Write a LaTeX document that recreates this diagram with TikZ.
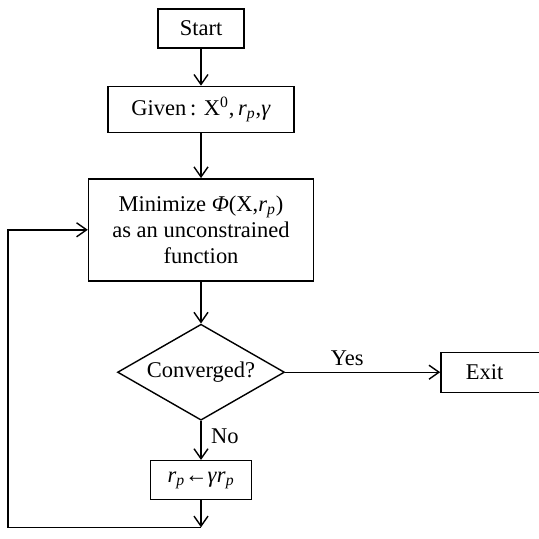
\documentclass[tikz,border=0pt]{standalone}
\usepackage{fontspec}
\setmainfont{Liberation Serif}
\usetikzlibrary{arrows.meta,positioning,shapes.geometric}

\newcommand{\rpsym}{\textit{r}\textsubscript{\textit{p}}}

\begin{document}
\begin{tikzpicture}[
        node distance=1cm, auto,
        line width=0.8pt,
        font=\fontsize{12.8pt}{14.8pt}\selectfont,
        >={Straight Barb[length=2mm,width=2.8mm]}
    ]
        \useasboundingbox (0,0) rectangle (10.76,-10.78);

        \node (1) [
            draw,
            minimum width=1.72cm,
            minimum height=0.78cm
        ] at (4.02,-0.57)
        {Start};

        \node (2) [
            draw,
            minimum width=3.72cm,
            minimum height=0.92cm,
            below=0.74cm of 1
        ]
        {Given\,: X\textsuperscript{0},\,\rpsym,\textit{γ}};

        \node (3) [
            draw,
            align=center,
            minimum width=4.5cm,
            minimum height=2.04cm,
            below=0.9cm of 2
        ]
        {Minimize \textit{Φ}(X,\rpsym)\\as an unconstrained\\function};

        \node (4) [
            draw,
            diamond,
            aspect=1.74,
            inner sep=0pt,
            minimum width=3.34cm,
            minimum height=1.92cm,
            below=0.84cm of 3
        ]
        {Converged?};

        % box runs past the right edge of the page
        \node (5) [
            draw,
            align=left,
            text width=2.5cm,
            inner xsep=0.5cm,
            minimum height=0.8cm,
            right=3.1cm of 4
        ]
        {Exit};

        \node (6) [
            draw,
            minimum width=2.02cm,
            minimum height=0.78cm,
            below=0.78cm of 4
        ]
        {\rpsym←\textit{γ}\rpsym};

        \coordinate [below=0.54cm of 6] (7);
        \coordinate (8) at (0.16,0);

        \draw[->] (1) -- (2);
        \draw[->] (2) -- (3);
        \draw[->] (3) -- (4);
        \draw[->] (4) -- node[pos=0.4, above] {Yes} (5);
        \draw[->] (4) -- node[pos=0.4, right, xshift=2pt] {No} (6);
        \draw[->] (6) -- (7);
        \draw[->] (7) -- (7 -| 8) |- (3.west);
    \end{tikzpicture}
\end{document}
